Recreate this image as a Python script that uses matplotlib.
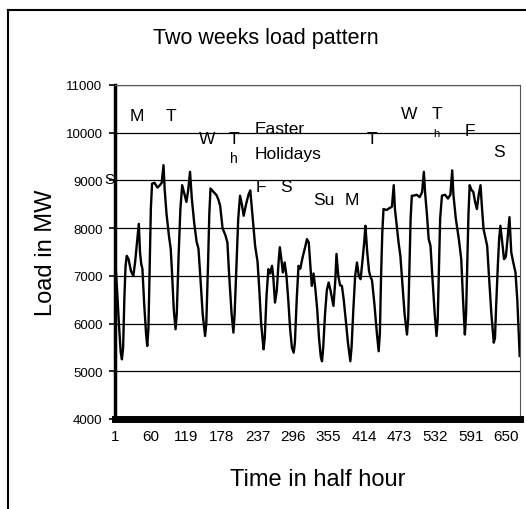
import matplotlib
matplotlib.use("Agg")
import matplotlib.pyplot as plt
from matplotlib.lines import Line2D

plt.rcParams['font.family'] = ['Liberation Sans', 'DejaVu Sans']

# Half-hour index and load (MW)
half_hour = [
    1, 4, 7, 10, 12, 14, 16, 18, 20, 23, 27, 31, 34, 37, 40, 42, 44, 46, 49, 52, 54,
    56, 58, 60, 62, 66, 71, 75, 78, 81, 83, 86, 90, 93, 95, 98, 101, 103, 106, 109,
    112, 116, 119, 122, 125, 128, 132, 136, 139, 142, 146, 150, 152, 155, 157, 159,
    164, 169, 172, 175, 179, 184, 187, 190, 194, 197, 199, 202, 205, 208, 211, 214,
    218, 222, 225, 229, 233, 237, 240, 243, 247, 249, 252, 255, 258, 261, 263, 266,
    269, 272, 274, 277, 279, 282, 285, 288, 291, 294, 297, 299, 302, 305, 308, 312,
    316, 319, 322, 327, 330, 333, 336, 339, 342, 344, 346, 349, 352, 355, 358, 363,
    366, 368, 371, 374, 377, 380, 384, 387, 391, 393, 396, 399, 402, 405, 408, 411,
    414, 416, 419, 422, 424, 427, 431, 435, 438, 440, 442, 444, 446, 451, 456, 460,
    463, 465, 468, 471, 474, 477, 481, 485, 487, 489, 491, 493, 496, 501, 506, 510,
    513, 515, 518, 521, 524, 527, 531, 534, 536, 538, 540, 543, 548, 553, 557, 560,
    562, 566, 571, 575, 578, 581, 583, 585, 587, 589, 592, 595, 598, 601, 604, 607,
    609, 612, 615, 618, 621, 625, 629, 631, 633, 636, 638, 640, 643, 646, 649, 652,
    655, 658, 661, 665, 668, 670, 672,
]
load_mw = [
    7300, 6700, 6000, 5400, 5250, 5500, 6500, 7200, 7420, 7350, 7100, 7000, 7300, 7700, 8090, 7500, 7250, 7150, 6400, 5800, 5530,
    5900, 7200, 8400, 8930, 8950, 8850, 8900, 8950, 9320, 8800, 8300, 7840, 7560, 7100, 6300, 5880, 6200, 7400, 8400,
    8900, 8700, 8550, 8800, 9180, 8620, 8100, 7710, 7570, 7000, 6200, 5740, 6000, 7300, 8300, 8830,
    8760, 8690, 8600, 8470, 8000, 7840, 7700, 7000, 6200, 5810, 6200, 7200, 8200, 8680, 8500, 8260,
    8500, 8700, 8790, 8200, 7630, 7300, 6700, 6000, 5460, 5700, 6600, 7140, 7050, 7210, 7000, 6440,
    6700, 7300, 7600, 7300, 7070, 7280, 7000, 6500, 5900, 5500, 5390, 5600, 6500, 7210, 7150, 7400,
    7600, 7770, 7700, 6790, 7050, 6720, 6300, 5700, 5300, 5210, 5500, 6200, 6700, 6860, 6700, 6370,
    6900, 7460, 7000, 6800, 6790, 6500, 6000, 5600, 5210, 5500, 6300, 7000, 7280, 7000, 6930, 7300,
    7700, 8050, 7500, 7100, 7000, 6900, 6400, 5800, 5420, 5800, 7000, 7900, 8400, 8380, 8420, 8450,
    8900, 8400, 8050, 7700, 7420, 6900, 6200, 5770, 6100, 7200, 8200, 8680, 8680, 8700, 8650, 8750,
    9180, 8750, 8300, 7770, 7630, 7000, 6200, 5740, 6100, 7200, 8200, 8680, 8700, 8620, 8700, 9210,
    8700, 8200, 7770, 7350, 6500, 5770, 6200, 7300, 8300, 8900, 8800, 8760, 8550, 8400, 8700, 8900,
    8500, 7980, 7800, 7630, 7000, 6200, 5600, 5700, 6400, 7300, 7800, 8050, 7700, 7350, 7400, 7800,
    8230, 7490, 7300, 7070, 6500, 5900, 5320,
]

x_ticks = [1, 60, 119, 178, 237, 296, 355, 414, 473, 532, 591, 650]
y_ticks = [4000, 5000, 6000, 7000, 8000, 9000, 10000, 11000]

# day markers: (text, half-hour position, MW position, size)
day_labels = [
    ("M", 36, 10370, 12.5), ("T", 93, 10370, 12.5), ("W", 153, 9880, 12.5),
    ("T", 198, 9880, 12.5), ("h", 197, 9480, 10), ("F", 242, 8870, 12.5),
    ("S", 285, 8870, 12.5), ("Su", 347, 8610, 12.5), ("M", 393, 8610, 12.5),
    ("T", 427, 9880, 12.5), ("W", 488, 10400, 12.5), ("T", 535, 10400, 12.5),
    ("h", 533, 10000, 8), ("F", 589, 10050, 12.5), ("S", 637, 9600, 12.5),
]

fig = plt.figure(figsize=(5.26, 5.10), dpi=100)
ax = fig.add_axes([0.2186, 0.1765, 0.7700, 0.6549])

ax.plot(half_hour, load_mw, color='black', linewidth=1.7)

ax.set_xlim(0.5, 672.5)
ax.set_ylim(4000, 11000)
ax.set_xticks(x_ticks)
ax.set_yticks(y_ticks)
ax.tick_params(axis='x', length=0, labelsize=11, pad=7)
ax.tick_params(axis='y', length=4, width=1.2, labelsize=9.5, pad=5)
ax.yaxis.grid(True, color='black', linewidth=0.9)
ax.set_axisbelow(True)

for s in ('top', 'right'):
    ax.spines[s].set_linestyle((0, (2, 1)))
    ax.spines[s].set_linewidth(0.8)
    ax.spines[s].set_color('#555555')
ax.spines['left'].set_linewidth(2.5)
ax.spines['bottom'].set_linewidth(5)

for txt, xp, yp, sz in day_labels:
    ax.text(xp, yp, txt, fontsize=sz, ha='center', va='center', clip_on=False)
# the Saturday mark that sits on the y axis, left of the frame
ax.text(0.5, 9040, "S", fontsize=11, ha='right', va='center', clip_on=False, zorder=5)
ax.text(232, 10090, "Easter", fontsize=12.5, ha='left', va='center')
ax.text(232, 9560, "Holidays", fontsize=12.5, ha='left', va='center')

ax.set_ylabel("Load in MW", fontsize=17, labelpad=6)
ax.set_xlabel("Time in half hour", fontsize=17, labelpad=18)
fig.text(0.505, 0.925, "Two weeks load pattern", fontsize=15.5, ha='center', va='center')

# outer frame (left and top edges of the scanned chart box)
fig.add_artist(Line2D([8 / 526, 8 / 526], [0, 1 - 11 / 510], color='black', linewidth=1.5))
fig.add_artist(Line2D([8 / 526, 1], [1 - 11 / 510, 1 - 11 / 510], color='black', linewidth=1.5))

fig.savefig("out.png", dpi=100)
